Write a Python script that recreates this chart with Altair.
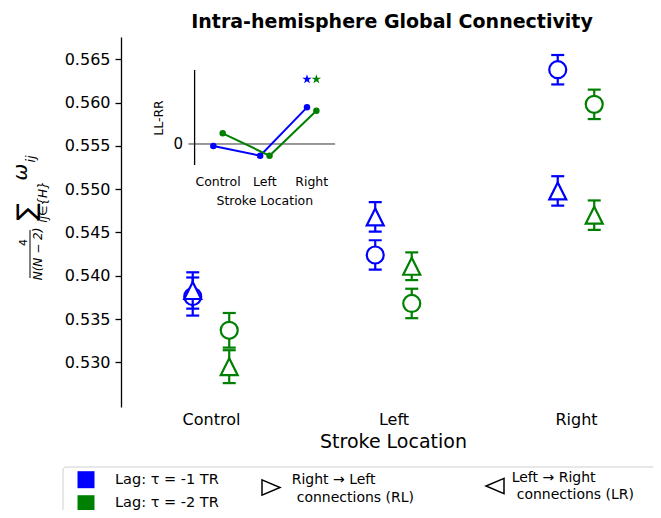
import altair as alt
import pandas as pd

# ---------------- data ----------------
categories = ["Control", "Left", "Right"]

# main panel: LL (circles) and RR (triangles) for two lags
lag1_ll = [0.5376, 0.5424, 0.5638]
lag1_ll_err = [0.0022, 0.0017, 0.0017]
lag1_rr = [0.5383, 0.5468, 0.5498]
lag1_rr_err = [0.0021, 0.0017, 0.0017]
lag2_ll = [0.5337, 0.5368, 0.5598]
lag2_ll_err = [0.0020, 0.0017, 0.0017]
lag2_rr = [0.5295, 0.5411, 0.5470]
lag2_rr_err = [0.0019, 0.0016, 0.0017]

# inset: LL-RR
inset_lag1 = [-0.0008, -0.0045, 0.0141]
inset_lag2 = [0.0041, -0.0045, 0.0128]
star_level = 0.0249
star_index = 2

lags = ["lag1", "lag2"]
y_ticks = [0.530, 0.535, 0.540, 0.545, 0.550, 0.555, 0.560, 0.565]

BLUE = "#0000ff"
GREEN = "#008000"
FONT = "DejaVu Sans"
dodge = {"lag1": -0.1, "lag2": 0.1}

rows = []
for lag, kind, vals, errs in [
    ("lag1", "LL", lag1_ll, lag1_ll_err),
    ("lag1", "RR", lag1_rr, lag1_rr_err),
    ("lag2", "LL", lag2_ll, lag2_ll_err),
    ("lag2", "RR", lag2_rr, lag2_rr_err),
]:
    for i, (v, e) in enumerate(zip(vals, errs)):
        rows.append(dict(cat=categories[i], lag=lag, kind=kind, pos=i + dodge[lag],
                         val=v, lo=v - e, hi=v + e))
main_df = pd.DataFrame(rows)

irows = []
for lag, vals in [("lag1", inset_lag1), ("lag2", inset_lag2)]:
    for i, v in enumerate(vals):
        irows.append(dict(cat=categories[i], lag=lag, pos=i + dodge[lag], val=v))
inset_df = pd.DataFrame(irows)
star_df = pd.DataFrame([dict(lag=l, pos=star_index + dodge[l], val=star_level) for l in lags])
cat_df = pd.DataFrame({"cat": categories, "idx": list(range(len(categories)))})

# ---------------- scales / axes ----------------
color_scale = alt.Scale(domain=lags, range=[BLUE, GREEN])
mx = alt.Scale(domain=[-0.493, 2.422], nice=False, zero=False)
my = alt.Scale(domain=[0.52484, 0.56758], nice=False, zero=False)

x_axis = alt.Axis(orient="bottom", values=[0, 1, 2],
                  labelExpr="['Control','Left','Right'][datum.value]",
                  domain=False, ticks=False, tickSize=0, grid=False,
                  labelFontSize=16, labelPadding=4, labelFlush=False, labelOverlap=False,
                  labelColor="black",
                  title="Stroke Location", titleFontSize=19, titleFontWeight="normal",
                  titleX=272, titleY=40.7, titleBaseline="alphabetic", titleAlign="center",
                  titleColor="black")
y_axis = alt.Axis(orient="left", values=y_ticks, format=".3f", title=None, grid=False,
                  domainColor="black", domainWidth=1.3, tickColor="black", tickWidth=1.3,
                  tickSize=6, labelFontSize=16, labelPadding=5, labelColor="black")

X = alt.X("pos:Q", scale=mx, axis=x_axis)
C = alt.Color("lag:N", scale=color_scale, legend=None)
S = alt.Stroke("lag:N", scale=color_scale, legend=None)

TRI_UP = "M0,-1L-1,1L1,1Z"
STAR = ("M0,-1L0.225,-0.309L0.951,-0.309L0.363,0.118L0.588,0.809L0,0.382"
        "L-0.588,0.809L-0.363,0.118L-0.951,-0.309L-0.225,-0.309Z")

base = alt.Chart(main_df)
main_layers = []
for lag in lags:
    for kind, shape in [("LL", "circle"), ("RR", TRI_UP)]:
        sub = base.transform_filter(f"datum.lag == '{lag}' && datum.kind == '{kind}'")
        main_layers.append(sub.mark_rule(strokeWidth=2.2, opacity=1).encode(
            x=X, y=alt.Y("lo:Q", scale=my, axis=y_axis), y2="hi:Q", color=C))
        for f in ["lo", "hi"]:
            main_layers.append(sub.mark_tick(orient="horizontal", size=13, thickness=2.2, opacity=1).encode(
                x=X, y=alt.Y(f"{f}:Q", scale=my, axis=y_axis), color=C))
        main_layers.append(sub.mark_point(shape=shape, size=289, strokeWidth=2.2, fill="white",
                                          fillOpacity=1, opacity=1).encode(
            x=X, y=alt.Y("val:Q", scale=my, axis=y_axis), stroke=S))
main = alt.layer(*main_layers)

# ---------------- inset ----------------
iy_dom = [-0.00808, 0.02846]
ix = alt.Scale(domain=[-0.5, 2.5], range=[73.6, 214.1], nice=False, zero=False)
iy = alt.Scale(domain=iy_dom, range=[128, 33], nice=False, zero=False)
one = alt.Data(values=[{}])

inset = alt.layer(
    alt.Chart(one).mark_rule(color="black", strokeWidth=1.3).encode(
        x=alt.X(datum=-0.5, scale=ix, axis=None),
        y=alt.Y(datum=iy_dom[0], scale=iy, axis=None), y2=alt.Y2(datum=iy_dom[1])),
    alt.Chart(one).mark_rule(color="#333333", strokeWidth=1).encode(
        x=alt.X(datum=-0.63, scale=ix, axis=None), x2=alt.X2(datum=2.5),
        y=alt.Y(datum=0, scale=iy, axis=None)),
    alt.Chart(inset_df).mark_line(strokeWidth=2, opacity=1).encode(
        x=alt.X("pos:Q", scale=ix, axis=None), y=alt.Y("val:Q", scale=iy, axis=None), color=C),
    alt.Chart(inset_df).mark_circle(size=42, opacity=1).encode(
        x=alt.X("pos:Q", scale=ix, axis=None), y=alt.Y("val:Q", scale=iy, axis=None), color=C),
    alt.Chart(star_df).mark_point(shape=STAR, filled=True, size=100, opacity=1).encode(
        x=alt.X("pos:Q", scale=ix, axis=None), y=alt.Y("val:Q", scale=iy, axis=None), color=C),
    alt.Chart(cat_df).mark_text(fontSize=12.5, baseline="middle", color="black").encode(
        x=alt.X("idx:Q", scale=ix, axis=None), y=alt.value(144.7), text="cat:N"),
    alt.Chart(one).mark_text(text="Stroke Location", fontSize=12.5, baseline="middle", color="black").encode(
        x=alt.X(datum=1, scale=ix, axis=None), y=alt.value(163.7)),
    alt.Chart(one).mark_text(text="0", fontSize=15, align="right", baseline="middle", color="black").encode(
        x=alt.value(62), y=alt.Y(datum=0, scale=iy, axis=None)),
)


def label(txt, x, y, size=14, align="left", angle=0, style="normal", baseline="middle",
          weight="normal"):
    return alt.Chart(one).mark_text(text=txt, fontSize=size, align=align, angle=angle,
                                    fontStyle=style, baseline=baseline, fontWeight=weight,
                                    color="black").encode(
        x=alt.value(x), y=alt.value(y))


NB = "\u00a0"
decor = [
    label("Intra-hemisphere Global Connectivity", 271, -8.7, size=19, align="center",
          baseline="alphabetic", weight="bold"),
    label("LL-RR", 38, 81, size=12.5, align="center", angle=270),
    # y-axis formula
    label("4", -97.5, 205.5, size=11, align="center", angle=270),
    alt.Chart(one).mark_rule(color="black", strokeWidth=1).encode(
        x=alt.value(-91), y=alt.value(193), y2=alt.value(241)),
    label("N(N − 2)", -83, 217, size=12, align="center", angle=270, style="italic"),
    label("∑", -94, 175, size=26, align="center", angle=270),
    label("ij∈{H}", -78.5, 165, size=12, align="center", angle=270, style="italic"),
    label("ω", -100, 135, size=20, align="center", angle=270, style="italic"),
    label("ij", -90, 122, size=13, align="center", angle=270, style="italic"),
    # legend
    alt.Chart(one).mark_rect(fill="white", stroke="#d0d0d0", strokeWidth=1, cornerRadius=3).encode(
        x=alt.value(-58), x2=alt.value(560), y=alt.value(430), y2=alt.value(500)),
    alt.Chart(one).mark_square(size=289, color=BLUE, opacity=1).encode(x=alt.value(-35), y=alt.value(442.7)),
    alt.Chart(one).mark_square(size=289, color=GREEN, opacity=1).encode(x=alt.value(-35), y=alt.value(466.7)),
    label(f"Lag: τ{NB}={NB}-1 TR", -6, 443, size=14.5),
    label(f"Lag: τ{NB}={NB}-2 TR", -6, 466, size=14.5),
    alt.Chart(one).mark_point(shape="M-1,-0.85L1,0L-1,0.85Z", size=324, stroke="black",
                              strokeWidth=1.5, opacity=1).encode(x=alt.value(150), y=alt.value(450.5)),
    label("Right → Left", 170.7, 443),
    label("connections (RL)", 175.7, 461),
    alt.Chart(one).mark_point(shape="M1,-0.85L-1,0L1,0.85Z", size=324, stroke="black",
                              strokeWidth=1.5, opacity=1).encode(x=alt.value(374), y=alt.value(449)),
    label("Left → Right", 390.7, 440.7),
    label("connections (LR)", 395.7, 458),
]

chart = alt.layer(main, inset, *decor).resolve_scale(
    x="independent", y="independent"
).properties(
    width=532, height=370,
    autosize=alt.AutoSizeParams(type="none"),
    padding={"left": 113, "top": 29, "right": 0, "bottom": 103},
).configure(font=FONT).configure_view(stroke=None).configure_axis(
    labelFont=FONT, titleFont=FONT)

chart.save("out.html", embed_options={"renderer": "svg", "actions": False})
